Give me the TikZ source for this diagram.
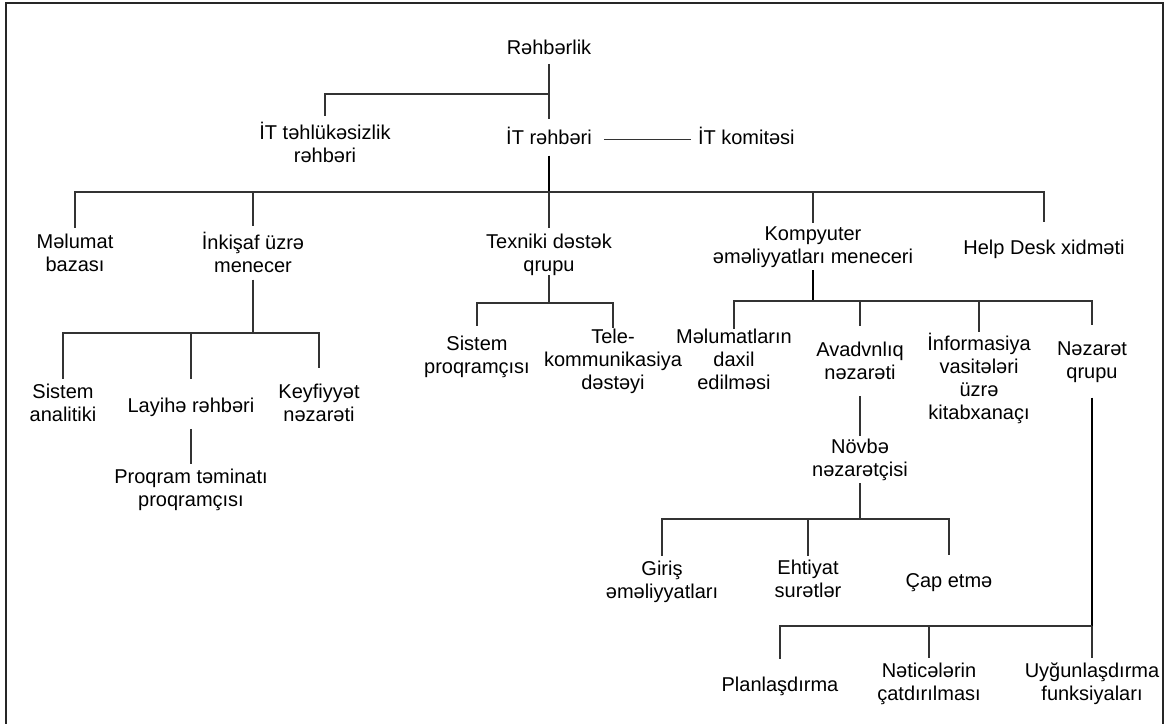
\documentclass[tikz,border=0pt]{standalone}
\usepackage{fontspec}
\setmainfont{Liberation Sans}
\begin{document}
\begin{tikzpicture}[x=1pt,y=-1pt,
  lbl/.style={inner sep=0pt, outer sep=0pt, align=center,
    font=\fontsize{20}{23}\selectfont,
    execute at begin node=\strut, execute at end node=\strut},
  link/.style={draw=black!80, line width=1.2pt},
  trunk/.style={draw=black, line width=2pt},
  frame/.style={draw=black!85, line width=2pt},
]
\useasboundingbox (0,0) rectangle (1169,723);
\draw[frame] (6,740) -- (6,3) -- (1163,3) -- (1163,740);

% nodes
\node[lbl] (rb)    at (549,49.4)  {Rəhbərlik};
\node[lbl] (itsec) at (325,145.9) {İT təhlükəsizlik\\rəhbəri};
\node[lbl] (itr)   at (549,139.4) {İT rəhbəri};
\node[lbl,anchor=west] (itk) at (698,139.4) {İT komitəsi};

\node[lbl] (mb)   at (75,255.9)   {Məlumat\\bazası};
\node[lbl] (ink)  at (253,255.9)  {İnkişaf üzrə\\menecer};
\node[lbl] (tex)  at (549,255.9)  {Texniki dəstək\\qrupu};
\node[lbl] (komp) at (813,248.4)  {Kompyuter\\əməliyyatları meneceri};
\node[lbl] (hd)   at (1044,249.4) {Help Desk xidməti};

\node[lbl] (sa) at (63,406.4)  {Sistem\\analitiki};
\node[lbl] (lr) at (191,407.4) {Layihə rəhbəri};
\node[lbl] (kn) at (319,406.4) {Keyfiyyət\\nəzarəti};
\node[lbl] (pt) at (191,490.9) {Proqram təminatı\\proqramçısı};

\node[lbl] (sp) at (477,358.4) {Sistem\\proqramçısı};
\node[lbl] (tk) at (613,362.4) {Tele-\\kommunikasiya\\dəstəyi};

\node[lbl] (md)  at (734,362.9)  {Məlumatların\\daxil\\edilməsi};
\node[lbl] (av)  at (860,363.9)  {Avadvnlıq\\nəzarəti};
\node[lbl] (inf) at (979,379.9)  {İnformasiya\\vasitələri\\üzrə\\kitabxanaçı};
\node[lbl] (nq)  at (1092,363.9) {Nəzarət\\qrupu};

\node[lbl] (nov) at (860,460.9) {Növbə\\nəzarətçisi};
\node[lbl] (gir) at (662,582.9) {Giriş\\əməliyyatları};
\node[lbl] (eht) at (808,582.4) {Ehtiyat\\surətlər};
\node[lbl] (cap) at (949,582.4) {Çap etmə};

\node[lbl] (plan) at (780,686.4)  {Planlaşdırma};
\node[lbl] (net)  at (929,685.4)  {Nəticələrin\\çatdırılması};
\node[lbl] (uyg)  at (1092,684.9) {Uyğunlaşdırma\\funksiyaları};

% junction points of the branch lines
\coordinate (j1) at (549,94);
\coordinate (b2) at (549,192);
\coordinate (b3) at (253,333);
\coordinate (b4) at (549,303);
\coordinate (b5) at (813,301);
\coordinate (b6) at (860,519);
\coordinate (b7) at (1092,626);

% top management
\draw[link,shorten <=3pt,shorten >=8pt] (rb) -- (itr);
\draw[link,shorten >=6pt] (j1) -| (itsec);
\draw[link,shorten <=12pt,shorten >=7pt] (itr) -- (itk);
\draw[trunk,shorten <=4pt] (itr) -- (b2);

% departments
\draw[link,shorten >=6pt]  (b2) -| (mb);
\draw[link,shorten >=6pt]  (b2) -| (ink);
\draw[link,shorten >=6pt]  (b2) -- (tex);
\draw[link,shorten >=4pt]  (b2) -| (komp);
\draw[link,shorten >=16pt] (b2) -| (hd);

% development
\draw[link] (ink) -- (b3);
\draw[link,shorten >=5pt]  (b3) -| (sa);
\draw[link,shorten >=17pt] (b3) -| (lr);
\draw[link,shorten >=16pt] (b3) -| (kn);
\draw[link,shorten <=10pt,shorten >=5pt] (lr) -- (pt);

% technical support
\draw[link,shorten <=-3pt] (tex) -- (b4);
\draw[link,shorten >=10pt] (b4) -| (sp);
\draw[link,shorten >=1pt]  (b4) -| (tk);

% computer operations
\draw[trunk] (komp) -- (b5);
\draw[link]                (b5) -| (md);
\draw[link,shorten >=16pt] (b5) -| (av);
\draw[link,shorten >=1pt]  (b5) -| (inf);
\draw[link,shorten >=17pt] (b5) -| (nq);
\draw[link,shorten <=10pt,shorten >=3pt] (av) -- (nov);

% shift supervisor
\draw[link] (nov) -- (b6);
\draw[link,shorten >=5pt]  (b6) -| (gir);
\draw[link,shorten >=4pt]  (b6) -| (eht);
\draw[link,shorten >=16pt] (b6) -| (cap);

% control group
\draw[trunk,shorten <=12pt] (nq) -- (b7);
\draw[link,shorten >=16pt] (b7) -| (plan);
\draw[link,shorten >=5pt]  (b7) -| (net);
\draw[link,shorten >=5pt]  (b7) -| (uyg);
\end{tikzpicture}
\end{document}
